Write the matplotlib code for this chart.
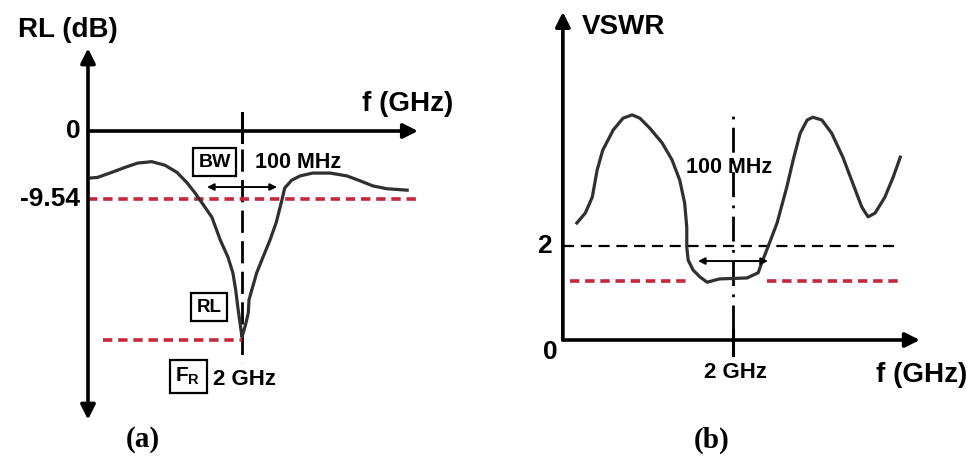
import matplotlib
matplotlib.use("Agg")
import matplotlib.pyplot as plt

plt.rcParams['font.family'] = ['Liberation Sans', 'DejaVu Sans']
plt.rcParams['font.weight'] = 'bold'

# values
fr = 2.0                 # resonance frequency (GHz)
bw = (1.95, 2.05)        # 100 MHz band
rl_threshold = -9.54
rl_min = -29.3
vswr_threshold = 2
vswr_min = 1.25

f_a = [1.783, 1.794, 1.814, 1.833, 1.851, 1.871, 1.890, 1.907, 1.921, 1.933,
       1.943, 1.957, 1.969, 1.980, 1.987, 1.991, 1.994, 1.997, 2.000, 2.003,
       2.006, 2.009, 2.010, 2.014, 2.021, 2.030, 2.040, 2.049, 2.057, 2.061,
       2.071, 2.083, 2.101, 2.126, 2.150, 2.169, 2.187, 2.207, 2.236]
rl_a = [-6.6, -6.5, -5.8, -5.1, -4.5, -4.3, -4.8, -5.8, -7.2, -8.7,
        -10.1, -12.1, -15.3, -17.7, -19.9, -22.3, -24.7, -26.8, -28.9, -27.9,
        -26.8, -25.5, -23.7, -22.3, -19.9, -17.7, -15.3, -12.8, -9.7, -8.0,
        -6.9, -6.3, -5.9, -5.9, -6.3, -7.0, -7.7, -8.1, -8.3]

f_b = [1.777, 1.789, 1.799, 1.806, 1.814, 1.829, 1.843, 1.856, 1.867, 1.881,
       1.899, 1.913, 1.924, 1.931, 1.934, 1.934, 1.936, 1.943, 1.953, 1.963,
       1.981, 2.020, 2.036, 2.041, 2.050, 2.063, 2.077, 2.086, 2.096, 2.106,
       2.114, 2.127, 2.141, 2.157, 2.171, 2.184, 2.193, 2.203, 2.217, 2.229,
       2.239]
vswr_b = [2.49, 2.70, 3.04, 3.62, 4.04, 4.47, 4.72, 4.79, 4.72, 4.51,
          4.19, 3.83, 3.40, 2.91, 2.40, 1.98, 1.70, 1.49, 1.34, 1.23,
          1.30, 1.32, 1.43, 1.64, 1.98, 2.49, 3.26, 3.83, 4.40, 4.68,
          4.74, 4.68, 4.40, 3.89, 3.34, 2.83, 2.62, 2.70, 3.04, 3.47,
          3.89]

RED = '#c3283c'
CURVE = '#303030'

fig = plt.figure(figsize=(9.8, 4.75), dpi=100)

def axis_arrow(ax, start, end, both=False):
    ax.annotate('', xy=end, xytext=start,
                arrowprops=dict(arrowstyle='<|-|>' if both else '-|>',
                                color='black', lw=2.6, mutation_scale=22,
                                shrinkA=0, shrinkB=0))

def bw_arrow(ax, y):
    ax.annotate('', xy=(bw[1], y), xytext=(bw[0], y),
                arrowprops=dict(arrowstyle='<|-|>', color='black', lw=1.4,
                                mutation_scale=10, shrinkA=0, shrinkB=0))

box = dict(boxstyle='square,pad=0.28', fc='white', ec='black', lw=1.6)

# ---- (a) return loss ----
ax = fig.add_axes([0, 0, 0.5, 1])
ax.set_xlim(1.6543, 2.3543)
ax.set_ylim(-48.26, 18.38)
ax.axis('off')

axis_arrow(ax, (1.78, -40.5), (1.78, 11.6), both=True)
axis_arrow(ax, (1.78, 0), (2.2514, 0))
ax.plot([fr, fr], [2.5, -1.5], color='black', lw=2.2)
ax.plot([fr, fr], [-2.5, -32.5], color='black', lw=2, dashes=(8, 3))

ax.plot([1.78, 2.254], [rl_threshold] * 2, color=RED, lw=2.6, dashes=(2.6, 1.6))
ax.plot([1.801, fr], [rl_min] * 2, color=RED, lw=2.6, dashes=(2.6, 1.6))
ax.plot(f_a, rl_a, color=CURVE, lw=2.3, solid_joinstyle='round')
bw_arrow(ax, -7.86)

ax.text(1.751, 14.2, 'RL (dB)', fontsize=20, ha='center', va='center')
ax.text(2.237, 3.8, 'f (GHz)', fontsize=20, ha='center', va='center')
ax.text(1.769, 0, '0', fontsize=19, ha='right', va='center')
ax.text(1.769, rl_threshold, '-9.54', fontsize=19, ha='right', va='center')
ax.text(1.961, -4.35, 'BW', fontsize=14, ha='center', va='center', bbox=box)
ax.text(2.08, -4.35, '100 MHz', fontsize=15.5, ha='center', va='center')
ax.text(1.953, -24.7, 'RL', fontsize=13.5, ha='center', va='center', bbox=box)
ax.text(1.923, -34.4, r'F$_\mathregular{R}$', fontsize=15, ha='center', va='center', bbox=box)
ax.text(2.003, -34.8, '2 GHz', fontsize=16, ha='center', va='center')
ax.text(1.859, -43.3, '(a)', fontsize=21, ha='center', va='center',
        family=['Liberation Serif', 'DejaVu Serif'])

# ---- (b) VSWR ----
bx = fig.add_axes([0.5, 0, 0.5, 1])
bx.set_xlim(1.6529, 2.3529)
bx.set_ylim(-2.872, 7.234)
bx.axis('off')

axis_arrow(bx, (1.757, 0), (1.757, 6.98))
axis_arrow(bx, (1.757, 0), (2.267, 0))
bx.plot([fr, fr], [-0.32, 0.22], color='black', lw=2.2)
bx.plot([fr, fr], [0.22, 4.83], color='black', lw=2, dashes=(9, 3, 1, 3))

bx.plot([1.757, 2.239], [vswr_threshold] * 2, color='black', lw=1.6, dashes=(5, 3))
bx.plot([1.767, 1.936], [vswr_min] * 2, color=RED, lw=2.6, dashes=(2.6, 1.6))
bx.plot([2.049, 2.241], [vswr_min] * 2, color=RED, lw=2.6, dashes=(2.6, 1.6))
bx.plot(f_b, vswr_b, color=CURVE, lw=2.3, solid_joinstyle='round')
bw_arrow(bx, 1.68)

bx.text(1.784, 6.66, 'VSWR', fontsize=20, ha='left', va='center')
bx.text(1.994, 3.66, '100 MHz', fontsize=15.5, ha='center', va='center')
bx.text(1.741, 2.0, '2', fontsize=19, ha='right', va='center')
bx.text(1.749, -0.26, '0', fontsize=19, ha='right', va='center')
bx.text(2.003, -0.70, '2 GHz', fontsize=16, ha='center', va='center')
bx.text(2.269, -0.74, 'f (GHz)', fontsize=20, ha='center', va='center')
bx.text(1.969, -2.13, '(b)', fontsize=21, ha='center', va='center',
        family=['Liberation Serif', 'DejaVu Serif'])

fig.savefig('out.png', dpi=100, facecolor='white')
